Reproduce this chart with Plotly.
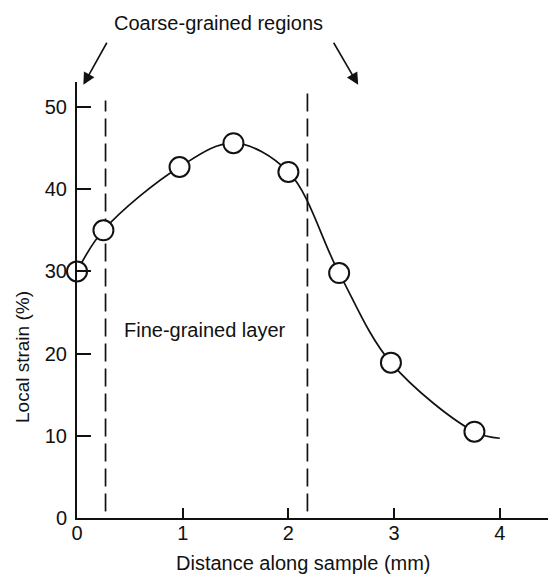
import plotly.graph_objects as go

# Measured points (distance along sample in mm, local strain in %)
distance_mm = [0.0, 0.25, 0.97, 1.48, 2.0, 2.48, 2.97, 3.76]
local_strain = [30.0, 35.0, 42.7, 45.6, 42.1, 29.8, 18.9, 10.5]

# Hand-drawn fitted curve passes through the points and ends at x = 4
curve_x = [0.0, 0.25, 0.97, 1.48, 2.0, 2.48, 2.97, 3.76, 4.0]
curve_y = [30.0, 35.0, 42.7, 45.6, 42.1, 29.8, 18.9, 10.5, 9.7]

# Boundaries of the fine-grained layer (mm) and heights of the dashed markers
boundaries_mm = [0.27, 2.18]
boundary_tops = [50.8, 51.8]

x_ticks = [0, 1, 2, 3, 4]
y_ticks = [0, 10, 20, 30, 40, 50]

FONT = "Liberation Sans, Arial, Helvetica, sans-serif"
BLACK = "#111111"

# The page has a default 8px body margin, so figure pixels are offset by 8.
OFF = 8
W, H = 556, 581
X0_PAGE, Y0_PAGE = 77, 518          # page pixel of the data origin
Y_TOP_PAGE = 82                      # page pixel of top of y axis
L = X0_PAGE - OFF
T = Y_TOP_PAGE - OFF
B = H - (Y0_PAGE - OFF)
R = 0
PW, PH = W - L - R, H - T - B
px_per_x = 105.7
px_per_y = 8.22


def page_to_paper(px, py):
    fx, fy = px - OFF, py - OFF
    return (fx - L) / PW, (H - B - fy) / PH


fig = go.Figure()

for bx, top in zip(boundaries_mm, boundary_tops):
    fig.add_trace(go.Scatter(
        x=[bx, bx], y=[0.8, top], mode="lines",
        line=dict(color=BLACK, width=1.7, dash="18px,7px"),
        hoverinfo="skip", showlegend=False, cliponaxis=False,
    ))

fig.add_trace(go.Scatter(
    x=curve_x, y=curve_y, mode="lines",
    line=dict(color=BLACK, width=1.7, shape="spline", smoothing=1.0),
    showlegend=False, cliponaxis=False,
))

fig.add_trace(go.Scatter(
    x=distance_mm, y=local_strain, mode="markers",
    marker=dict(symbol="circle", size=20, color="white",
                line=dict(color=BLACK, width=2)),
    showlegend=False, cliponaxis=False,
))

# Text labels
fig.add_annotation(x=1.21, y=22.9, xref="x", yref="y", text="Fine-grained layer",
                   showarrow=False, xanchor="center", yanchor="middle",
                   font=dict(family=FONT, size=20, color=BLACK))

cx, cy = page_to_paper(218, 23)
fig.add_annotation(x=cx, y=cy, xref="paper", yref="paper",
                   text="Coarse-grained regions", showarrow=False,
                   xanchor="center", yanchor="middle",
                   font=dict(family=FONT, size=20, color=BLACK))

xtx, xty = page_to_paper(303, 563)
fig.add_annotation(x=xtx, y=xty, xref="paper", yref="paper",
                   text="Distance along sample (mm)", showarrow=False,
                   xanchor="center", yanchor="middle",
                   font=dict(family=FONT, size=20, color=BLACK))

ytx, yty = page_to_paper(22, 357)
fig.add_annotation(x=ytx, y=yty, xref="paper", yref="paper",
                   text="Local strain (%)", showarrow=False, textangle=-90,
                   xanchor="center", yanchor="middle",
                   font=dict(family=FONT, size=19, color=BLACK))

# Arrows pointing to coarse-grained regions
for hx, tx in [(0.06, 0.29), (2.66, 2.42)]:
    fig.add_annotation(x=hx, y=52.7, ax=tx, ay=58.0, xref="x", yref="y",
                       axref="x", ayref="y", text="", showarrow=True,
                       arrowhead=2, arrowsize=1.5, arrowwidth=1.6,
                       arrowcolor=BLACK)

fig.update_layout(
    width=W, height=H,
    margin=dict(l=L, r=R, t=T, b=B),
    paper_bgcolor="white", plot_bgcolor="white",
    font=dict(family=FONT, size=20, color=BLACK),
    xaxis=dict(
        range=[0, PW / px_per_x],
        tickmode="array", tickvals=x_ticks, ticktext=[str(v) for v in x_ticks],
        ticks="inside", ticklen=10, tickwidth=1.6, tickcolor=BLACK,
        showline=True, linecolor=BLACK, linewidth=2,
        showgrid=False, zeroline=False, ticklabelstandoff=-4,
        tickfont=dict(family=FONT, size=20, color=BLACK),
    ),
    yaxis=dict(
        range=[0, PH / px_per_y],
        tickmode="array", tickvals=y_ticks, ticktext=[str(v) for v in y_ticks],
        ticks="inside", ticklen=14, tickwidth=1.6, tickcolor=BLACK,
        showline=True, linecolor=BLACK, linewidth=2,
        showgrid=False, zeroline=False, ticklabelstandoff=4,
        tickfont=dict(family=FONT, size=20, color=BLACK),
    ),
)

fig.write_html("out.html")
